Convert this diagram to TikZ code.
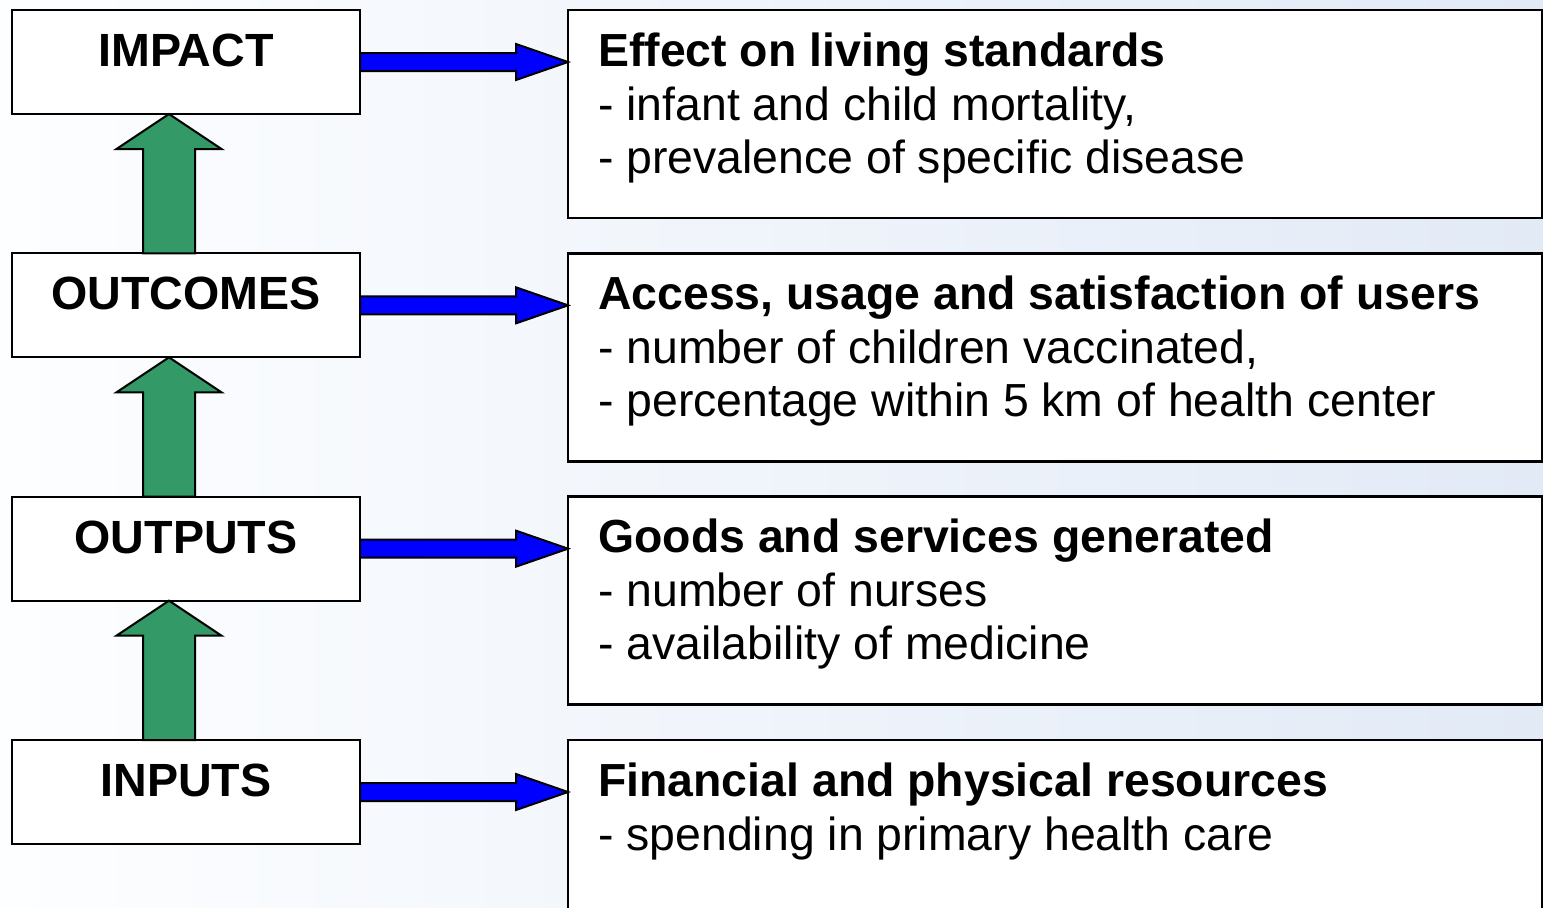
\documentclass[tikz,border=0pt]{standalone}
\usepackage{fontspec}
\setmainfont{Liberation Sans}
\usetikzlibrary{calc}
\definecolor{bgblue}{RGB}{226,234,246}
\definecolor{bgleft}{RGB}{253,254,255}
\definecolor{seagreen}{RGB}{51,153,102}
\newcommand\bluearrowdraw[2]{\draw[bluearrow] let \p1=(#1), \p2=(#2) in
  (\x1,\y1+9pt) -- (\x2-52pt,\y1+9pt) -- (\x2-52pt,\y1+18pt) -- (\x2,\y1) --
  (\x2-52pt,\y1-18pt) -- (\x2-52pt,\y1-9pt) -- (\x1,\y1-9pt) -- cycle;}
\newcommand\greenarrowdraw[2]{\draw[greenarrow] let \p1=($(#1)+(-17,0)$), \p2=(#2) in
  (\x1-26pt,\y1) -- (\x1-26pt,\y2-35pt) -- (\x1-52.5pt,\y2-35pt) -- (\x1,\y2) --
  (\x1+52.5pt,\y2-35pt) -- (\x1+26pt,\y2-35pt) -- (\x1+26pt,\y1) -- cycle;}
\begin{document}
\begin{tikzpicture}[x=1pt,y=-1pt,
  lbox/.style={draw=black,line width=2pt,fill=white,minimum width=348pt,minimum height=104pt,inner sep=0pt,outer sep=0pt},
  rbox/.style={draw=black,line width=2.5pt,fill=white,minimum width=974pt,minimum height=208pt,inner sep=0pt,outer sep=0pt},
  ltext/.style={font=\fontsize{46.6}{54}\selectfont\bfseries,anchor=base,inner sep=0pt},
  rhead/.style={font=\fontsize{46.4}{54}\selectfont\bfseries,anchor=base west,inner sep=0pt},
  rline/.style={font=\fontsize{46.4}{54}\selectfont,anchor=base west,inner sep=0pt},
  bluearrow/.style={draw=black,line width=2pt,fill=blue,line join=miter},
  greenarrow/.style={draw=black,line width=2pt,fill=seagreen,line join=miter}]
\useasboundingbox (0,0) rectangle (1543,908);
\clip (0,0) rectangle (1543,908);
\shade[left color=bgleft,right color=bgblue] (0,0) rectangle (1543,908);
% boxes
\node[lbox] (impact) at (186,62) {};
\node[rbox] (effect) at (1055,114) {};
\node[lbox] (outcomes) at (186,305.33) {};
\node[rbox] (access) at (1055,357.33) {};
\node[lbox] (outputs) at (186,548.67) {};
\node[rbox] (goods) at (1055,600.67) {};
\node[lbox] (inputs) at (186,792) {};
\node[rbox] (fin) at (1055,844) {};
% arrows
\bluearrowdraw{impact.east}{effect.west}
\bluearrowdraw{outcomes.east}{access.west}
\bluearrowdraw{outputs.east}{goods.west}
\bluearrowdraw{inputs.east}{fin.west}
\greenarrowdraw{outcomes.north}{impact.south}
\greenarrowdraw{outputs.north}{outcomes.south}
\greenarrowdraw{inputs.north}{outputs.south}
% left labels
\node[ltext] (limpact) at (186,66.5) {IMPACT};
\node[ltext] (loutcomes) at (186,309.8) {OUTCOMES};
\node[ltext] (loutputs) at (186,553.2) {OUTPUTS};
\node[ltext] (linputs) at (186,796.5) {INPUTS};
% right texts
\node[rhead] (e1) at (598,66) {Effect on living standards};
\node[rline] (e2) at (598,120) {- infant and child mortality,};
\node[rline] (e3) at (598,173) {- prevalence of specific disease};
\node[rhead] (a1) at (598,309.3) {Access, usage and satisfaction of users};
\node[rline] (a2) at (598,363.3) {- number of children vaccinated,};
\node[rline] (a3) at (598,416.3) {- percentage within 5 km of health center};
\node[rhead] (g1) at (598,552.7) {Goods and services generated};
\node[rline] (g2) at (598,606.7) {- number of nurses};
\node[rline] (g3) at (598,659.7) {- availability of medicine};
\node[rhead] (f1) at (598,796) {Financial and physical resources};
\node[rline] (f2) at (598,850) {- spending in primary health care};
\end{tikzpicture}
\end{document}
